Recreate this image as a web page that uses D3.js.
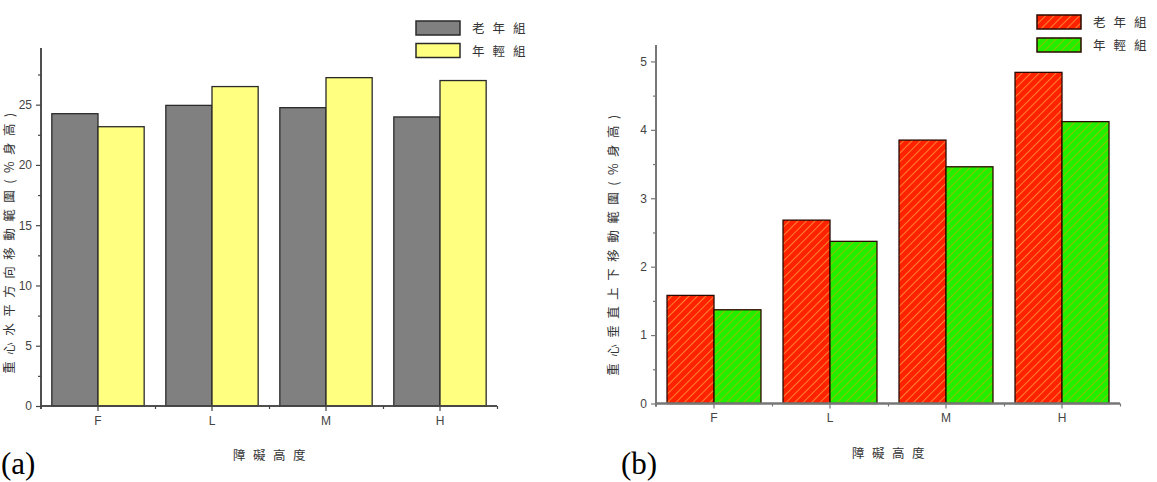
<!DOCTYPE html>
<html><head><meta charset="utf-8">
<script src="https://cdn.jsdelivr.net/npm/d3@7"></script>
<style>
html,body{margin:0;padding:0;background:#fff;}
svg{display:block;}
.tick text{font-family:"Liberation Sans",Arial,sans-serif;font-size:12px;fill:#444;}
.cjk{font-family:"Noto Sans CJK TC","Noto Sans CJK SC",sans-serif;font-size:12.5px;fill:#333;}
</style></head>
<body>
<svg id="c" width="1157" height="482"></svg>
<script>
// ---- data ----
const categories = ["F", "L", "M", "H"];
const seriesNames = ["老年組", "年輕組"];
const leftOld   = [24.25, 24.94, 24.75, 23.98];
const leftYoung = [23.17, 26.50, 27.24, 27.00];
const rightOld   = [1.58, 2.68, 3.85, 4.84];
const rightYoung = [1.37, 2.37, 3.46, 4.12];
const leftTicks  = [0, 5, 10, 15, 20, 25];
const leftMinor  = [2.5, 7.5, 12.5, 17.5, 22.5, 27.5];
const rightTicks = [0, 1, 2, 3, 4, 5];
const rightMinor = [0.5, 1.5, 2.5, 3.5, 4.5];
const xLabel = "障礙高度";
const leftYLabel = "重心水平方向移動範圍(%身高)";
const rightYLabel = "重心垂直上下移動範圍(%身高)";
const panelLabels = ["(a)", "(b)"];

const svg = d3.select("#c");
const defs = svg.append("defs");

function hatch(id, fill, line) {
  const p = defs.append("pattern").attr("id", id).attr("patternUnits", "userSpaceOnUse")
    .attr("width", 6).attr("height", 6).attr("patternTransform", "rotate(45)");
  p.append("rect").attr("width", 6).attr("height", 6).attr("fill", fill);
  p.append("line").attr("x1", 0).attr("y1", 0).attr("x2", 0).attr("y2", 6)
    .attr("stroke", line).attr("stroke-width", 2);
}
hatch("hRed", "#ff2200", "#ff8030");
hatch("hGreen", "#22ee00", "#8cc400");

function panel(o) {
  const g = svg.append("g");
  const y = d3.scaleLinear().domain([0, o.yMax]).range([o.y0, o.y1]);
  const x = d3.scaleBand().domain(categories).range([o.x0, o.x1])
    .paddingInner(0.19).paddingOuter(0.095);
  const xs = d3.scaleBand().domain([0, 1]).range([0, x.bandwidth()]);
  const series = [o.a, o.b];
  series.forEach((vals, si) => {
    g.selectAll(null).data(vals).enter().append("rect")
      .attr("x", (d, i) => x(categories[i]) + xs(si))
      .attr("y", d => y(d))
      .attr("width", xs.bandwidth())
      .attr("height", d => y(0) - y(d))
      .attr("fill", o.fills[si])
      .attr("stroke", o.stroke).attr("stroke-width", 1.3);
  });
  // y axis
  g.append("g").attr("class", "yax").attr("transform", `translate(${o.x0},0)`)
    .call(d3.axisLeft(y).tickValues(o.ticks).tickFormat(d3.format("d")).tickSize(5).tickPadding(4));
  g.append("g").attr("class", "yax").attr("transform", `translate(${o.x0},0)`)
    .call(d3.axisLeft(y).tickValues(o.minor).tickFormat("").tickSize(3));
  // x axis
  g.append("g").attr("class", "xax").attr("transform", `translate(0,${o.y0})`)
    .call(d3.axisBottom(x).tickSize(5).tickPadding(5));
  const bounds = categories.map(c => x(c) - x.step() * 0.095).concat([o.x1]);
  const xb = d3.scaleLinear().domain([o.x0, o.x1]).range([o.x0, o.x1]);
  g.append("g").attr("class", "xax").attr("transform", `translate(0,${o.y0})`)
    .call(d3.axisBottom(xb).tickValues(bounds.slice(1)).tickFormat("").tickSize(3));
  g.selectAll(".domain").attr("stroke", o.axis).attr("stroke-width", o.aw);
  g.selectAll(".tick line").attr("stroke", o.axis).attr("stroke-width", 1.2);
  g.selectAll(".xax .domain").attr("d", `M${o.x0 - 0.5},0H${o.x1}`);
  g.selectAll(".yax .domain").attr("d", `M0,${o.y0 + 3}V${o.y1}`);
  // legend
  seriesNames.forEach((n, i) => {
    g.append("rect").attr("x", o.lx).attr("y", o.ly + i * o.lgap).attr("width", 44).attr("height", 14)
      .attr("fill", o.fills[i]).attr("stroke", o.stroke).attr("stroke-width", 1.5);
    g.append("text").attr("class", "cjk").attr("x", o.lx + 56).attr("y", o.ly + i * o.lgap + 12)
      .attr("letter-spacing", "8px").text(n);
  });
  // x label
  g.append("text").attr("class", "cjk").attr("x", (o.x0 + o.x1) / 2 + 4).attr("y", o.xly)
    .attr("text-anchor", "middle").attr("letter-spacing", "7.5px").text(xLabel);
  // y label
  g.append("text").attr("class", "cjk")
    .attr("transform", `translate(${o.ylx},${o.yly}) rotate(-90)`)
    .attr("text-anchor", "middle").attr("letter-spacing", "6.5px").text(o.ylabel);
  // panel label
  g.append("text").attr("x", o.px).attr("y", 474)
    .attr("font-family", "'Liberation Serif','Times New Roman',serif").attr("font-size", 31)
    .attr("fill", "#000").text(o.plabel);
}

panel({a: leftOld, b: leftYoung, fills: ["#808080", "#ffff80"], stroke: "#2a2a2a",
  yMax: 29.7, y0: 406, y1: 48, x0: 41, x1: 497, ticks: leftTicks, minor: leftMinor,
  axis: "#444", aw: 1.5, lx: 416, ly: 21, lgap: 22.5, xly: 460, ylx: 14, yly: 240,
  ylabel: leftYLabel, px: 1, plabel: panelLabels[0]});
panel({a: rightOld, b: rightYoung, fills: ["url(#hRed)", "url(#hGreen)"], stroke: "#2a0a00",
  yMax: 5.24, y0: 403.5, y1: 45, x0: 656, x1: 1120, ticks: rightTicks, minor: rightMinor,
  axis: "#777", aw: 2, lx: 1037, ly: 15, lgap: 23, xly: 458, ylx: 618, yly: 242,
  ylabel: rightYLabel, px: 621, plabel: panelLabels[1]});
</script>
</body></html>
